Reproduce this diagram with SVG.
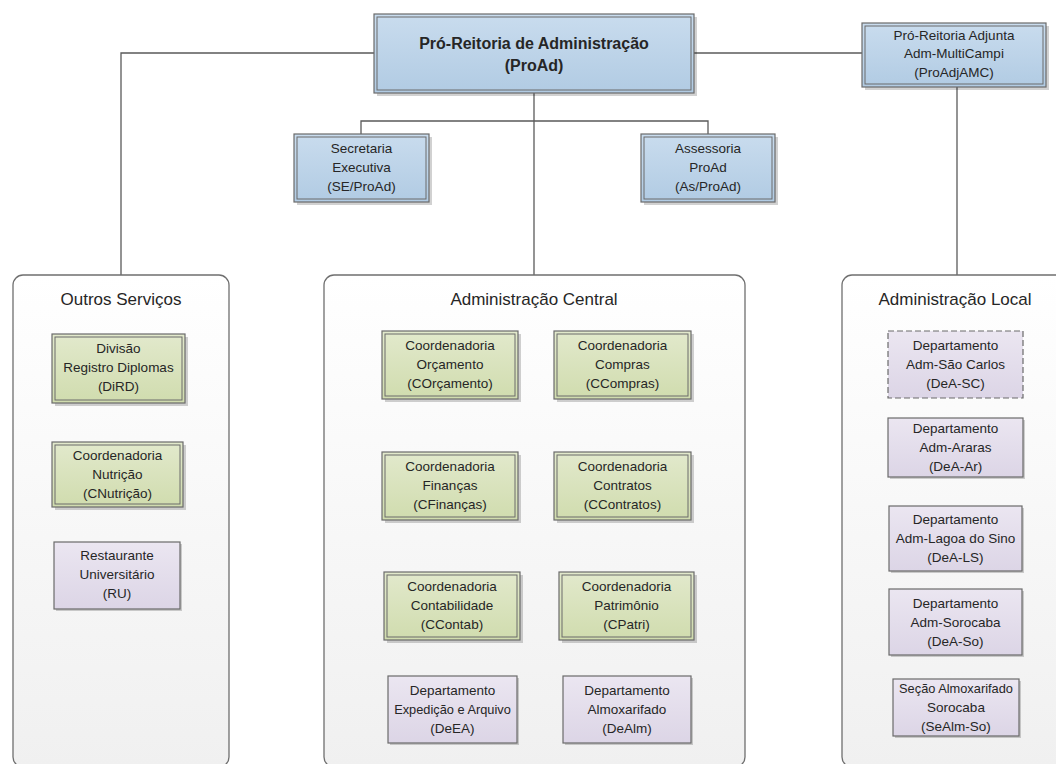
<svg xmlns="http://www.w3.org/2000/svg" width="1056" height="764" viewBox="0 0 1056 764">
<defs>
<linearGradient id="gBlue" x1="0" y1="0" x2="0" y2="1"><stop offset="0" stop-color="#c9dcee"/><stop offset="1" stop-color="#b1cbe3"/></linearGradient>
<linearGradient id="gGreen" x1="0" y1="0" x2="0" y2="1"><stop offset="0" stop-color="#e2e9cc"/><stop offset="1" stop-color="#d0dcae"/></linearGradient>
<linearGradient id="gPurple" x1="0" y1="0" x2="0" y2="1"><stop offset="0" stop-color="#ebe6f1"/><stop offset="1" stop-color="#dcd5e6"/></linearGradient>
<linearGradient id="gCont" x1="0" y1="0" x2="0" y2="1"><stop offset="0" stop-color="#ffffff"/><stop offset="1" stop-color="#f0f0f0"/></linearGradient>
</defs>
<style>
text{font-family:"Liberation Sans",Arial,sans-serif;fill:#262626;text-anchor:middle}
.t{font-size:13.5px}
.s{font-size:12.8px}
.tt{font-size:17px}
.tb{font-size:16px;font-weight:bold}
.sh{fill:#000;opacity:0.18}
.o{stroke:#6a6a6a;stroke-width:1.2}
.i{fill:none;stroke:#6a6a6a;stroke-width:1}
.cont{fill:url(#gCont);stroke:#6f6f6f;stroke-width:1.3}
.blue{fill:url(#gBlue)}
.green{fill:url(#gGreen)}
.purple{fill:url(#gPurple)}
.con{fill:none;stroke:#5a5a5a;stroke-width:1.3}
</style>
<rect width="1056" height="764" fill="#ffffff"/>

<g id="connectors">
<polyline class="con" points="374,53 121,53 121,275"/>
<line class="con" x1="694" y1="53" x2="862" y2="53"/>
<line class="con" x1="534" y1="93" x2="534" y2="275"/>
<polyline class="con" points="361,134 361,121 708,121 708,134"/>
<line class="con" x1="957" y1="87" x2="957" y2="275"/>
<line class="con" x1="117" y1="507" x2="117" y2="542"/>
<line class="con" x1="627" y1="640" x2="627" y2="676"/>
<line class="con" x1="956" y1="655" x2="956" y2="679"/>
</g>

<g id="outros-servicos">
<rect class="cont" x="13" y="275" width="216" height="492" rx="10"/>
<text class="tt" x="121" y="305">Outros Serviços</text>
</g>
<g id="administracao-central">
<rect class="cont" x="324" y="275" width="421" height="492" rx="10"/>
<text class="tt" x="534" y="305">Administração Central</text>
</g>
<g id="administracao-local">
<rect class="cont" x="842" y="275" width="240" height="492" rx="10"/>
<text class="tt" x="955" y="305">Administração Local</text>
</g>

<g id="proad">
<rect class="sh" x="377" y="17" width="320" height="79"/>
<rect class="o blue" x="374" y="14" width="320" height="79"/>
<rect class="i" x="377" y="17" width="314" height="73"/>
<text class="tb" x="534" y="49">Pró-Reitoria de Administração</text>
<text class="tb" x="534" y="71">(ProAd)</text>
</g>
<g id="proadjamc">
<rect class="sh" x="865" y="26" width="184" height="64"/>
<rect class="o blue" x="862" y="23" width="184" height="64"/>
<rect class="i" x="865" y="26" width="178" height="58"/>
<text class="t" x="954" y="40">Pró-Reitoria Adjunta</text>
<text class="t" x="954" y="58">Adm-MultiCampi</text>
<text class="t" x="954" y="77">(ProAdjAMC)</text>
</g>
<g id="se-proad">
<rect class="sh" x="297" y="137" width="135" height="68"/>
<rect class="o blue" x="294" y="134" width="135" height="68"/>
<rect class="i" x="297" y="137" width="129" height="62"/>
<text class="t" x="361.5" y="153">Secretaria</text>
<text class="t" x="361.5" y="172">Executiva</text>
<text class="t" x="361.5" y="191">(SE/ProAd)</text>
</g>
<g id="as-proad">
<rect class="sh" x="644" y="137" width="134" height="68"/>
<rect class="o blue" x="641" y="134" width="134" height="68"/>
<rect class="i" x="644" y="137" width="128" height="62"/>
<text class="t" x="708" y="153">Assessoria</text>
<text class="t" x="708" y="172">ProAd</text>
<text class="t" x="708" y="191">(As/ProAd)</text>
</g>

<g id="dird">
<rect class="sh" x="55" y="337" width="133" height="69"/>
<rect class="o green" x="52" y="334" width="133" height="69"/>
<rect class="i" x="55" y="337" width="127" height="63"/>
<text class="t" x="118.5" y="353">Divisão</text>
<text class="t" x="118.5" y="372">Registro Diplomas</text>
<text class="t" x="118.5" y="391">(DiRD)</text>
</g>
<g id="cnutricao">
<rect class="sh" x="55" y="445" width="131" height="65"/>
<rect class="o green" x="52" y="442" width="131" height="65"/>
<rect class="i" x="55" y="445" width="125" height="59"/>
<text class="t" x="117.5" y="460">Coordenadoria</text>
<text class="t" x="117.5" y="479">Nutrição</text>
<text class="t" x="117.5" y="498">(CNutrição)</text>
</g>
<g id="ru">
<rect class="sh" x="56" y="544" width="126" height="67"/>
<rect class="o purple" x="54" y="542" width="126" height="67"/>
<text class="t" x="117" y="560">Restaurante</text>
<text class="t" x="117" y="579">Universitário</text>
<text class="t" x="117" y="598">(RU)</text>
</g>

<g id="corcamento">
<rect class="sh" x="385" y="334" width="136" height="68"/>
<rect class="o green" x="382" y="331" width="136" height="68"/>
<rect class="i" x="385" y="334" width="130" height="62"/>
<text class="t" x="450" y="350">Coordenadoria</text>
<text class="t" x="450" y="369">Orçamento</text>
<text class="t" x="450" y="388">(COrçamento)</text>
</g>
<g id="ccompras">
<rect class="sh" x="557" y="334" width="137" height="68"/>
<rect class="o green" x="554" y="331" width="137" height="68"/>
<rect class="i" x="557" y="334" width="131" height="62"/>
<text class="t" x="622.5" y="350">Coordenadoria</text>
<text class="t" x="622.5" y="369">Compras</text>
<text class="t" x="622.5" y="388">(CCompras)</text>
</g>
<g id="cfinancas">
<rect class="sh" x="385" y="455" width="136" height="68"/>
<rect class="o green" x="382" y="452" width="136" height="68"/>
<rect class="i" x="385" y="455" width="130" height="62"/>
<text class="t" x="450" y="471">Coordenadoria</text>
<text class="t" x="450" y="490">Finanças</text>
<text class="t" x="450" y="509">(CFinanças)</text>
</g>
<g id="ccontratos">
<rect class="sh" x="557" y="455" width="137" height="68"/>
<rect class="o green" x="554" y="452" width="137" height="68"/>
<rect class="i" x="557" y="455" width="131" height="62"/>
<text class="t" x="622.5" y="471">Coordenadoria</text>
<text class="t" x="622.5" y="490">Contratos</text>
<text class="t" x="622.5" y="509">(CContratos)</text>
</g>
<g id="ccontab">
<rect class="sh" x="387" y="575" width="136" height="68"/>
<rect class="o green" x="384" y="572" width="136" height="68"/>
<rect class="i" x="387" y="575" width="130" height="62"/>
<text class="t" x="452" y="591">Coordenadoria</text>
<text class="t" x="452" y="610">Contabilidade</text>
<text class="t" x="452" y="629">(CContab)</text>
</g>
<g id="cpatri">
<rect class="sh" x="562" y="575" width="135" height="68"/>
<rect class="o green" x="559" y="572" width="135" height="68"/>
<rect class="i" x="562" y="575" width="129" height="62"/>
<text class="t" x="626.5" y="591">Coordenadoria</text>
<text class="t" x="626.5" y="610">Patrimônio</text>
<text class="t" x="626.5" y="629">(CPatri)</text>
</g>
<g id="deea">
<rect class="sh" x="390" y="678" width="129" height="67"/>
<rect class="o purple" x="388" y="676" width="129" height="67"/>
<text class="t" x="452.5" y="695">Departamento</text>
<text class="s" x="452.5" y="714">Expedição e Arquivo</text>
<text class="t" x="452.5" y="733">(DeEA)</text>
</g>
<g id="dealm">
<rect class="sh" x="565" y="678" width="128" height="67"/>
<rect class="o purple" x="563" y="676" width="128" height="67"/>
<text class="t" x="627" y="695">Departamento</text>
<text class="t" x="627" y="714">Almoxarifado</text>
<text class="t" x="627" y="733">(DeAlm)</text>
</g>

<g id="dea-sc">
<rect class="purple" x="888" y="331" width="135" height="67" stroke="#6a6a6a" stroke-width="1.2" stroke-dasharray="6,3"/>
<text class="t" x="955.5" y="350">Departamento</text>
<text class="t" x="955.5" y="369">Adm-São Carlos</text>
<text class="t" x="955.5" y="388">(DeA-SC)</text>
</g>
<g id="dea-ar">
<rect class="sh" x="890" y="420" width="135" height="59"/>
<rect class="o purple" x="888" y="418" width="135" height="59"/>
<text class="t" x="955.5" y="433">Departamento</text>
<text class="t" x="955.5" y="452">Adm-Araras</text>
<text class="t" x="955.5" y="471">(DeA-Ar)</text>
</g>
<g id="dea-ls">
<rect class="sh" x="891" y="508" width="133" height="65"/>
<rect class="o purple" x="889" y="506" width="133" height="65"/>
<text class="t" x="955.5" y="524">Departamento</text>
<text class="t" x="955.5" y="543">Adm-Lagoa do Sino</text>
<text class="t" x="955.5" y="562">(DeA-LS)</text>
</g>
<g id="dea-so">
<rect class="sh" x="891" y="591" width="133" height="66"/>
<rect class="o purple" x="889" y="589" width="133" height="66"/>
<text class="t" x="955.5" y="608">Departamento</text>
<text class="t" x="955.5" y="627">Adm-Sorocaba</text>
<text class="t" x="955.5" y="646">(DeA-So)</text>
</g>
<g id="sealm-so">
<rect class="sh" x="895" y="681" width="126" height="57"/>
<rect class="o purple" x="893" y="679" width="126" height="57"/>
<text class="s" x="956" y="693">Seção Almoxarifado</text>
<text class="t" x="956" y="712">Sorocaba</text>
<text class="t" x="956" y="731">(SeAlm-So)</text>
</g>
</svg>
